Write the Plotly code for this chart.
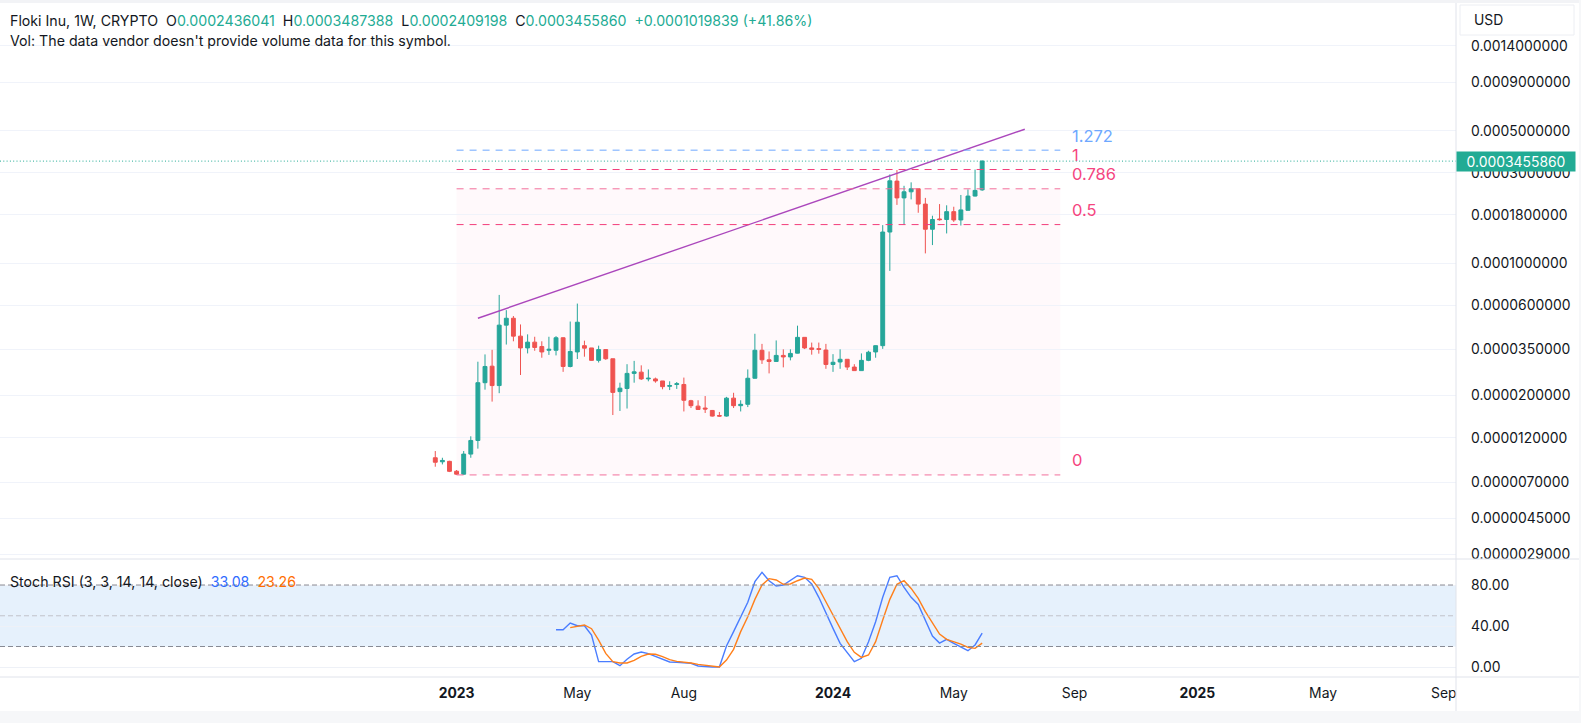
"""Weekly Floki Inu chart with fib levels, a trend line and a Stoch RSI pane."""
from __future__ import annotations

import math

import pandas as pd
import plotly.graph_objects as go
from plotly.subplots import make_subplots

UP = "#22ab94"
CANDLE_UP = "#26a69a"
CANDLE_DOWN = "#ef5350"
FONT = "Inter"  # closest installed face to the vendor's UI font

# open, high, low, close in millionths of a USD, week by week
BARS = [
    (9.4, 10.2, 8.43, 8.9), (8.95, 9.4, 8.67, 9.1), (9.0, 9.06, 7.9, 7.97), (7.98, 8.1, 7.63, 7.7),
    (7.7, 10.2, 7.63, 9.83), (9.83, 12.2, 9.4, 11.6), (11.6, 30.2, 10.5, 23.4), (23.4, 33, 21.5, 28.5),
    (28.6, 34.9, 18.6, 22.6), (22.6, 68, 20.6, 47.1), (47.1, 56.5, 37.2, 51.2), (51.2, 52.6, 38.7, 41.2),
    (41.2, 47.5, 25.7, 35.7), (35.7, 42.1, 33.4, 38.3), (38.3, 40.9, 34.5, 35.9), (36.3, 38.7, 31.7, 34),
    (34.7, 40.9, 32.8, 35.1), (34.7, 41.2, 32.6, 40.4), (40.4, 40.6, 26.7, 28.5), (28.5, 49.2, 28.2, 34.2),
    (34, 61.2, 31.2, 48.8), (36.7, 39, 32.1, 35.6), (35.7, 35.7, 30.6, 30.7), (30.7, 36.7, 29.9, 35),
    (35, 35.1, 30.9, 31.3), (31.3, 31.3, 15.8, 20.8), (21, 23.4, 16.6, 21.9), (21.8, 29.3, 17.1, 26.2),
    (26.2, 30.5, 23.4, 26.7), (26.6, 28.9, 24.2, 24.5), (24.5, 27.5, 23.8, 24.7), (24.5, 24.9, 23.4, 23.9),
    (23.9, 23.9, 21.6, 22.3), (22.4, 23.8, 21.4, 22.6), (22.9, 23.6, 21.7, 23.1), (22.9, 24.9, 16.5, 18.9),
    (18.8, 19, 17.2, 17.7), (17.6, 18.9, 16.8, 16.9), (17.2, 19.9, 16.2, 17), (16.7, 16.8, 15.5, 15.6),
    (15.7, 16.4, 15.5, 15.6), (15.6, 19.7, 15.5, 19.4), (19.4, 20.7, 17.2, 17.7), (17.7, 18.9, 16.5, 18),
    (18, 27.5, 17.4, 24.7), (24.7, 42.4, 24.6, 34.7), (34.7, 37.5, 29.4, 30.9), (30.9, 34.2, 26.2, 30.3),
    (30.3, 39.1, 30.1, 32.6), (32.6, 35.1, 28.2, 32), (32, 35.1, 30.7, 33.4), (33.5, 46.8, 33.4, 40.6),
    (40.6, 40.6, 35.2, 35.7), (35.7, 38.1, 32.9, 35.1), (35.4, 38.1, 33.3, 35.1), (34.8, 37.5, 27.7, 29.2),
    (29.2, 33.1, 26.7, 30), (30.1, 35.1, 27.7, 31.1), (31.1, 31.1, 27.3, 28.3), (28.3, 29.3, 27.1, 27.1),
    (27.1, 33.4, 27.1, 30.7), (30.7, 34.5, 30.4, 33.9), (34, 36.8, 31.7, 36.7), (36.7, 158.8, 35.3, 146),
    (146, 294, 91, 272), (271, 310, 203, 221), (221, 256, 160, 238), (238, 267, 217, 247),
    (247, 247, 184.5, 205), (205, 221, 112.6, 151), (151, 178, 124.6, 170), (171, 205, 167.6, 169.7),
    (170, 202, 143.5, 187), (187, 198.5, 165, 169), (169, 229, 158, 191), (190, 245, 190, 226),
    (226, 312, 225, 242), (243.6041, 348.7388, 240.9198, 345.586),
]

# Stoch RSI, starting at the 18th and the 20th week
K_LINE = [
    36.4, 36.4, 42.9, 40.3, 40.3, 31.2, 5.2, 5.2, 5.2, 1.3, 7.5, 12.7, 14.6, 13, 10.1, 7.2, 4.9, 4.6, 4.2, 3.6,
    1, 0.3, 0, 0, 20.5, 34.5, 49.1, 63.1, 83.3, 92.4, 84.2, 79, 80, 84.2, 89.1, 87.5, 81, 68, 52.4, 37.7,
    23.1, 14, 5.2, 8.5, 24.7, 44.2, 68, 87.5, 89.1, 77.7, 68, 61.1, 45.9, 30.2, 23.4, 27, 23.1, 19.5, 15.9, 21.5,
    33.08,
]
D_LINE = [
    38.4, 39.7, 41, 37.4, 26.3, 13.3, 5.2, 3.9, 3.9, 6.5, 10.4, 12.7, 12.4, 10.1, 7.2, 5.5, 4.9, 3.9, 2.6, 1.6,
    0.3, 0, 6.8, 17.2, 34.5, 49.1, 66, 80, 86.2, 84.9, 80.7, 81, 84.2, 86.8, 85.5, 76.7, 63.7, 50.7, 37.7, 24.7,
    14.3, 9.4, 11.7, 24.7, 45.9, 66, 80.7, 84.2, 76.7, 67, 54, 42.6, 32.2, 27, 24.7, 22.4, 19.2, 18.2, 23.26,
]

FIB_LOW = 7.63e-6
FIB_HIGH = 312e-6
# ratio, line colour, label colour
FIB_LEVELS = [(1.272, "#6ea8ff", "#6ea8ff"), (1, "#f23d7a", "#f5457f"), (0.786, "#f2709c", "#f5457f"),
              (0.5, "#f23d7a", "#f5457f"), (0, "#f2709c", "#f5457f")]

PRICE_TICKS = [0.0014, 0.0009, 0.0005, 0.0003, 0.00018, 0.0001, 0.00006, 0.000035, 0.00002, 0.000012,
               0.000007, 0.0000045, 0.0000029]
TIME_TICKS = [("2023-01-02", "<b>2023</b>"), ("2023-05-01", "May"), ("2023-08-14", "Aug"), ("2024-01-08", "<b>2024</b>"),
              ("2024-05-06", "May"), ("2024-09-02", "Sep"), ("2025-01-01", "<b>2025</b>"), ("2025-05-05", "May"),
              ("2025-09-01", "Sep")]


def _frame() -> pd.DataFrame:
    df = pd.DataFrame(BARS, columns=["Open", "High", "Low", "Close"]) * 1e-6
    df.index = pd.date_range("2022-12-12", periods=len(df), freq="W-MON")
    return df


def _add_fib(fig: go.Figure, df: pd.DataFrame) -> None:
    start, end = df.index[3], pd.Timestamp("2024-08-19")
    level = lambda r: FIB_LOW + r * (FIB_HIGH - FIB_LOW)
    fig.add_shape(type="rect", x0=start, x1=end, y0=level(0), y1=level(0.786), fillcolor="rgba(242,54,120,0.03)",
                  line={"width": 0}, layer="below", row=1, col=1)
    for ratio, color, label_color in FIB_LEVELS:
        fig.add_shape(type="line", x0=start, x1=end, y0=level(ratio), y1=level(ratio),
                      line={"color": color, "width": 1, "dash": "7px,6px"}, row=1, col=1)
        fig.add_annotation(x=end, y=math.log10(level(ratio)), text=f"{ratio:g}", showarrow=False,
                           xanchor="left", xshift=10, yshift=14.5,
                           font={"size": 16.5, "color": label_color, "family": FONT}, row=1, col=1)


def _add_chrome(fig: go.Figure) -> None:
    # page bands, pane separators and the currency button, all in pixels of the 1581x723 page
    px_x = lambda x: x / 1456
    px_y = lambda y: (677 - y) / 674
    band = {"type": "rect", "xref": "paper", "yref": "paper", "line": {"width": 0}}
    fig.add_shape(x0=px_x(0), x1=px_x(1581), y0=px_y(0), y1=px_y(3), fillcolor="#f2f3f6", **band)
    fig.add_shape(x0=px_x(0), x1=px_x(1581), y0=px_y(711), y1=px_y(723), fillcolor="#f6f7f9", **band)
    fig.add_shape(x0=px_x(1579), x1=px_x(1581), y0=px_y(0), y1=px_y(723), fillcolor="#f6f7f9", **band)
    rule = {"type": "line", "xref": "paper", "yref": "paper", "line": {"color": "#e0e3eb", "width": 1}}
    fig.add_shape(x0=px_x(0), x1=px_x(1579), y0=px_y(559), y1=px_y(559), **rule)
    fig.add_shape(x0=px_x(0), x1=px_x(1579), y0=px_y(677), y1=px_y(677), **rule)
    fig.add_shape(x0=px_x(1456), x1=px_x(1456), y0=px_y(3), y1=px_y(711), **rule)
    fig.add_shape(type="rect", xref="paper", yref="paper", x0=px_x(1460), x1=px_x(1574), y0=px_y(5), y1=px_y(35),
                  fillcolor="#ffffff", line={"color": "#eceef3", "width": 1})
    note = {"xref": "paper", "yref": "paper", "showarrow": False, "xanchor": "left", "yanchor": "middle"}
    fig.add_annotation(x=px_x(1472), y=px_y(20), text="USD", font={"size": 13.9, "color": "#131722", "family": FONT}, **note)

    price = lambda v: f'<span style="color:{UP}">{v}</span>'
    legend = ("Floki Inu, 1W, CRYPTO  O" + price("0.0002436041") + "  H" + price("0.0003487388") + "  L"
              + price("0.0002409198") + "  C" + price("0.0003455860") + "  " + price("+0.0001019839 (+41.86%)"))
    for y, text in [(20, legend), (41, "Vol: The data vendor doesn't provide volume data for this symbol.")]:
        fig.add_annotation(x=px_x(8), y=px_y(y), text=text, font={"size": 14.2, "color": "#131722", "family": FONT}, **note)
    stoch = ('Stoch RSI (3, 3, 14, 14, close)  <span style="color:#2f6bff">33.08</span>'
             '  <span style="color:#ff6d00">23.26</span>')
    fig.add_annotation(x=px_x(8), y=px_y(581), text=stoch, font={"size": 14.2, "color": "#131722", "family": FONT}, **note)


def _figure(df: pd.DataFrame) -> go.Figure:
    fig = make_subplots(
        rows=2,
        cols=1,
        shared_xaxes=True,
        row_heights=[556 / 674, 118 / 674],
        vertical_spacing=0,
    )
    _add_fib(fig, df)
    fig.add_trace(
        go.Candlestick(
            x=df.index,
            open=df["Open"],
            high=df["High"],
            low=df["Low"],
            close=df["Close"],
            increasing_line_color=CANDLE_UP,
            decreasing_line_color=CANDLE_DOWN,
            increasing_fillcolor=CANDLE_UP,
            decreasing_fillcolor=CANDLE_DOWN,
            increasing_line_width=1,
            decreasing_line_width=1,
            whiskerwidth=0,
            name="K",
        ),
        row=1,
        col=1,
    )
    fig.add_trace(
        go.Scatter(
            x=[df.index[6], pd.Timestamp("2024-07-15")],
            y=[51.2e-6, 509e-6],
            mode="lines",
            line={"color": "#ab47bc", "width": 1.4},
        ),
        row=1,
        col=1,
    )
    last = df["Close"].iloc[-1]
    fig.add_shape(type="line", xref="x domain", x0=0, x1=1, y0=last, y1=last,
                  line={"color": UP, "width": 1, "dash": "1px,2.3px"}, row=1, col=1)
    fig.add_annotation(xref="paper", yref="y", x=1, y=math.log10(last), text="0.0003455860", showarrow=False,
                       xanchor="left", width=114, height=15, borderpad=2, bgcolor=UP, align="center",
                       font={"size": 13.9, "color": "#ffffff", "family": FONT})

    fig.add_trace(
        go.Scatter(x=df.index[17:], y=K_LINE, mode="lines", line={"color": "#4a7dff", "width": 1.4}),
        row=2,
        col=1,
    )
    fig.add_trace(
        go.Scatter(x=df.index[19:], y=D_LINE, mode="lines", line={"color": "#ff7f1a", "width": 1.4}),
        row=2,
        col=1,
    )
    fig.add_hrect(y0=20, y1=80, fillcolor="#e6f1fc", line_width=0, layer="below", row=2, col=1)
    for value, color in [(80, "#878a94"), (50, "#c2c4ca"), (20, "#878a94")]:
        fig.add_hline(y=value, line={"color": color, "width": 1, "dash": "5px,3px"}, row=2, col=1)

    fig.update_layout(
        width=1581,
        height=723,
        margin={"l": 0, "r": 125, "t": 3, "b": 46},
        xaxis_rangeslider_visible=False,
        plot_bgcolor="#ffffff",
        paper_bgcolor="#ffffff",
        showlegend=False,
        boxgap=0.22,
        font={"family": FONT, "color": "#131722", "size": 13.9},
    )
    fig.update_xaxes(range=["2021-10-09", "2025-09-13"], showgrid=False, zeroline=False, showline=False)
    fig.update_xaxes(tickvals=[t[0] for t in TIME_TICKS], ticktext=[t[1] for t in TIME_TICKS], ticks="",
                     ticklabelstandoff=6, row=2, col=1)
    fig.update_yaxes(
        type="log",
        side="right",
        range=[-5.5611, -2.6271],
        tickvals=PRICE_TICKS,
        tickformat=".10f",
        gridcolor="#f0f3fa",
        zeroline=False,
        ticks="",
        ticklabelstandoff=14,
        row=1,
        col=1,
    )
    fig.update_yaxes(
        side="right",
        range=[-9.76, 105.4],
        tickvals=[0, 40, 80],
        tickformat=".2f",
        gridcolor="#eef1f7",
        zeroline=False,
        ticks="",
        ticklabelstandoff=14,
        row=2,
        col=1,
    )
    _add_chrome(fig)
    return fig


def render() -> None:
    fig = _figure(_frame())
    # the page's default body margin would push the chart 8px off
    fig.write_html("out.html", post_script="document.body.style.margin = '0';", config={"displayModeBar": False})


render()
